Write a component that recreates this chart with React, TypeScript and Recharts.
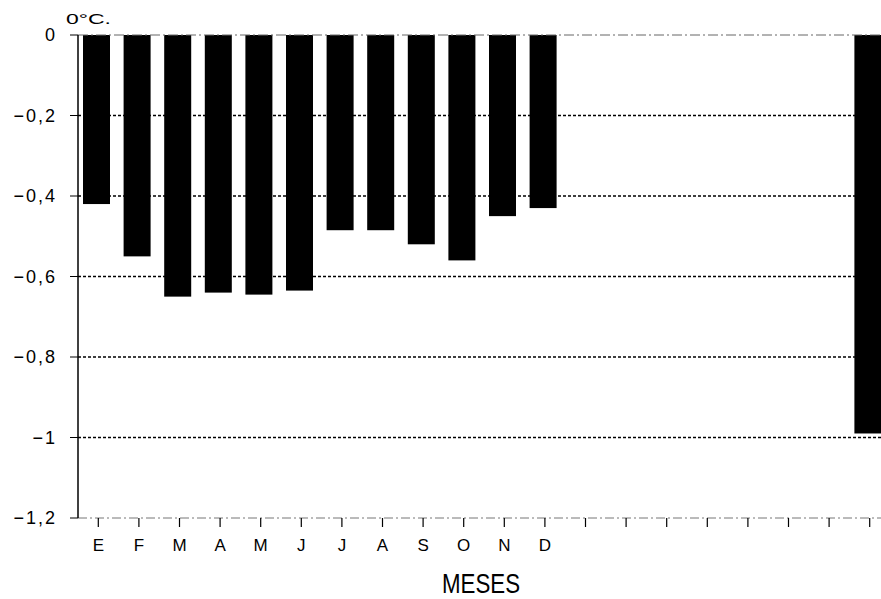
import React from 'react';
import { BarChart, Bar, XAxis, YAxis, ReferenceLine } from 'recharts';

const monthLabels = ['E', 'F', 'M', 'A', 'M', 'J', 'J', 'A', 'S', 'O', 'N', 'D', '', '', '', '', '', '', '', ''];
const anomalies: (number | null)[] = [-0.42, -0.55, -0.65, -0.64, -0.645, -0.635, -0.485, -0.485, -0.52, -0.56, -0.45, -0.43, null, null, null, null, null, null, null, -0.99];
const yTicks = [0, -0.2, -0.4, -0.6, -0.8, -1, -1.2];
const gridValues = [-0.2, -0.4, -0.6, -0.8, -1];
const unitLabel = '0°C.';
const xTitle = 'MESES';

const data = monthLabels.map((m, i) => ({ idx: i, value: anomalies[i] }));

const FONT = '"Liberation Sans", Arial, sans-serif';

const fmtY = (v: number) => (v === 0 ? '0' : '\u2212' + String(Math.abs(v)).replace('.', ','));

const ShiftedBar = (props: any) => {
  const { x, y, width, height } = props;
  if (x == null || height == null) return null;
  const h = Math.abs(height);
  const top = height < 0 ? y + height : y;
  return <rect x={x - 2} y={top} width={width} height={h} fill="#000" />;
};

export default function App() {
  return (
    <div style={{ position: 'absolute', left: 0, top: 0, width: 881, height: 599, overflow: 'hidden', background: '#fff' }}>
      <BarChart
        width={900}
        height={599}
        data={data}
        margin={{ top: 35, right: 10, left: 0, bottom: 0 }}
        barCategoryGap={0}
      >
        <XAxis
          dataKey="idx"
          type="category"
          height={81}
          tickFormatter={(i: number) => monthLabels[i]}
          interval={0}
          axisLine={{ stroke: '#777', strokeDasharray: '9 3 2 3', strokeWidth: 1 }}
          tickLine={{ stroke: '#000', strokeWidth: 1.2 }}
          tickSize={9}
          tick={{ fill: '#000', fontSize: 17, fontFamily: FONT, dy: 10 }}
        />
        <YAxis
          type="number"
          domain={[-1.2, 0]}
          ticks={yTicks}
          width={78}
          interval={0}
          tickFormatter={fmtY}
          axisLine={{ stroke: '#000', strokeWidth: 1.5 }}
          tickLine={{ stroke: '#000', strokeWidth: 1 }}
          tickSize={8}
          tick={{ fill: '#000', fontSize: 18, fontFamily: FONT, dx: -11, letterSpacing: 2 }}
        />
        {gridValues.map((g) => (
          <ReferenceLine key={g} y={g} stroke="#000" strokeWidth={1.5} strokeDasharray="3 2" />
        ))}
        <ReferenceLine y={0} stroke="#666" strokeWidth={1} strokeDasharray="10 3 2 3" />
        <Bar dataKey="value" fill="#000" barSize={27} isAnimationActive={false} shape={ShiftedBar} />
        <text x={66} y={24} fontSize={14} fontFamily={FONT} fill="#000" textLength={45} lengthAdjust="spacingAndGlyphs">{unitLabel}</text>
        <text x={442} y={593} fontSize={27} fontFamily={FONT} fill="#000" textLength={78} lengthAdjust="spacingAndGlyphs">{xTitle}</text>
      </BarChart>
    </div>
  );
}
